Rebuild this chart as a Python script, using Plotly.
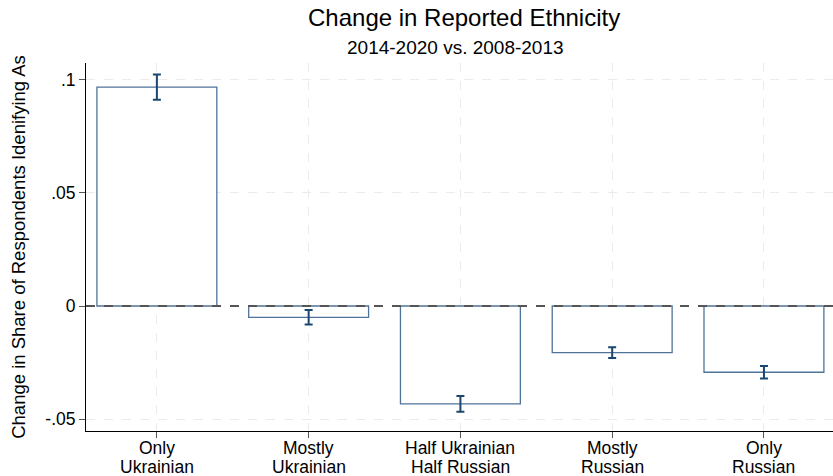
import plotly.graph_objects as go

label_line1 = ["Only", "Mostly", "Half Ukrainian", "Mostly", "Only"]
label_line2 = ["Ukrainian", "Ukrainian", "Half Russian", "Russian", "Russian"]
changes = [0.0968, -0.0050, -0.0433, -0.0206, -0.0293]
ci_half = [0.0056, 0.0032, 0.0035, 0.0024, 0.0028]
ytick_vals = [-0.05, 0, 0.05, 0.1]
ytick_text = ["-.05", "0", ".05", ".1"]

positions = list(range(1, len(changes) + 1))

fig = go.Figure()
fig.add_trace(go.Bar(
    x=positions, y=changes, width=0.79,
    marker=dict(color="white", line=dict(color="#4f7399", width=1.3)),
    error_y=dict(type="data", array=ci_half, color="#1a476f", thickness=2, width=4),
    showlegend=False,
))

# dashed reference line at zero
fig.add_shape(type="line", xref="paper", x0=0, x1=1, yref="y", y0=0, y1=0,
              line=dict(color="#555555", width=2, dash="dash"), layer="above")

font = "Liberation Sans, Arial, sans-serif"

# title and subtitle
fig.add_annotation(text="Change in Reported Ethnicity", xref="paper", yref="paper",
                   x=0.506, y=1.1223, xanchor="center", yanchor="middle",
                   showarrow=False, font=dict(size=24, family=font, color="black"))
fig.add_annotation(text="2014-2020 vs. 2008-2013", xref="paper", yref="paper",
                   x=0.495, y=1.042, xanchor="center", yanchor="middle",
                   showarrow=False, font=dict(size=19, family=font, color="black"))

# two-line category labels with tight line spacing
for pos, l1, l2 in zip(positions, label_line1, label_line2):
    fig.add_annotation(text=l1, x=pos, xref="x", yref="paper", y=-0.0462,
                       xanchor="center", yanchor="middle", showarrow=False,
                       font=dict(size=17.5, family=font, color="black"))
    fig.add_annotation(text=l2, x=pos, xref="x", yref="paper", y=-0.0978,
                       xanchor="center", yanchor="middle", showarrow=False,
                       font=dict(size=17.5, family=font, color="black"))

fig.update_layout(
    width=833, height=476,
    margin=dict(l=86, r=0, t=63, b=45),
    plot_bgcolor="white", paper_bgcolor="white",
    font=dict(family=font, color="black", size=17.5),
    xaxis=dict(
        range=[0.533, 5.455], tickvals=positions, showticklabels=False,
        showgrid=True, gridcolor="#ebebeb", griddash="dash", gridwidth=1.3,
        showline=True, linecolor="black", linewidth=1,
        ticks="outside", ticklen=6, tickcolor="#555555",
        zeroline=False, automargin=False,
    ),
    yaxis=dict(
        range=[-0.0553, 0.1075], tickvals=ytick_vals, ticktext=ytick_text,
        showgrid=True, gridcolor="#ebebeb", griddash="dash", gridwidth=1.3,
        showline=True, linecolor="black", linewidth=1,
        ticks="outside", ticklen=6, tickcolor="#555555",
        tickfont=dict(size=17.5), zeroline=False, automargin=False,
        title=dict(text="Change in Share of Respondents Idenifying As",
                   font=dict(size=18.5), standoff=14),
    ),
)

fig.write_html("out.html")
